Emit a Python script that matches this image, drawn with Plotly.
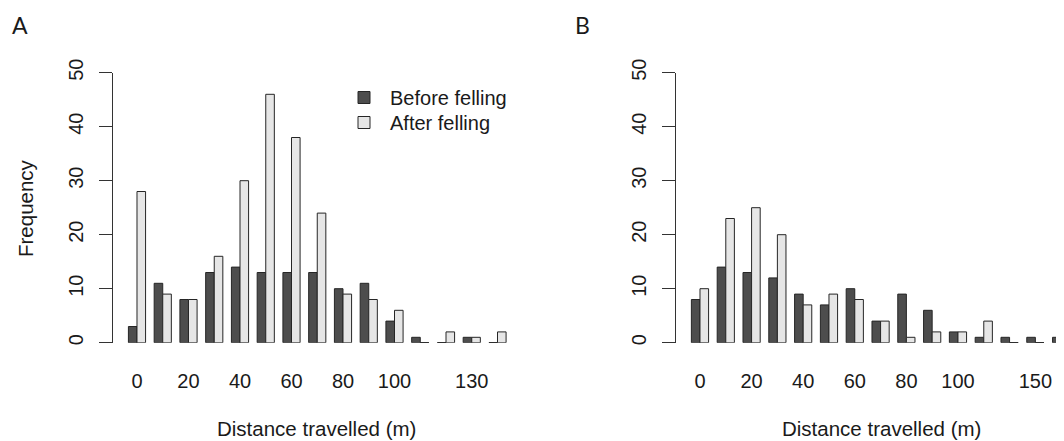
import plotly.graph_objects as go

# ---------------- data ----------------
categories_a = ["0", "10", "20", "30", "40", "50", "60", "70", "80", "90",
                "100", "110", "120", "130", "140"]
before_a = [3, 11, 8, 13, 14, 13, 13, 13, 10, 11, 4, 1, 0, 1, 0]
after_a = [28, 9, 8, 16, 30, 46, 38, 24, 9, 8, 6, 0, 2, 1, 2]
shown_labels_a = ["0", "20", "40", "60", "80", "100", "130"]

categories_b = ["0", "10", "20", "30", "40", "50", "60", "70", "80", "90",
                "100", "110", "140", "150", "160"]
before_b = [8, 14, 13, 12, 9, 7, 10, 4, 9, 6, 2, 1, 1, 1, 1]
after_b = [10, 23, 25, 20, 7, 9, 8, 4, 1, 2, 2, 4, 0, 0, 0]
shown_labels_b = ["0", "20", "40", "60", "80", "100", "150"]

y_ticks = [0, 10, 20, 30, 40, 50]
series_names = ["Before felling", "After felling"]

# ---------------- style ----------------
# the page body has an 8px margin, so the figure is drawn 8px in from the
# top-left corner of the window; positions below are given in window pixels
OFF = 8
W, H = 1064 - OFF, 441 - OFF
DARK = "#4d4d4d"
LIGHT = "#e6e6e6"
EDGE = "#262626"
TXT = "#1a1a1a"
FONT = "Liberation Sans, Arial, sans-serif"


def fx(p):
    return (p - OFF) / W


def fy(p):
    return 1 - (p - OFF) / H


fig = go.Figure()

panels = [
    (categories_a, before_a, after_a, shown_labels_a, "x", "y", True),
    (categories_b, before_b, after_b, shown_labels_b, "x2", "y2", False),
]

BW = 1 / 3  # bar width in category units (bargap = 1/3, 2 bars per group)
legends = ["legend", "legend2"]

for cats, bef, aft, shown, xa, ya, leg in panels:
    idx = list(range(len(cats)))
    for k, (name, vals, col) in enumerate([(series_names[0], bef, DARK),
                                           (series_names[1], aft, LIGHT)]):
        fig.add_trace(go.Bar(
            x=idx, y=vals, name=name, xaxis=xa, yaxis=ya,
            marker=dict(color=col, line=dict(color=EDGE, width=1)),
            showlegend=leg, legend=legends[k], cliponaxis=False,
            hoverinfo="y",
        ))
    # outline of zero-height bars (R draws them as a flat line)
    for k, vals in enumerate([bef, aft]):
        xs, ys = [], []
        for i, v in enumerate(vals):
            if v == 0:
                left = i - BW if k == 0 else i
                xs += [left, left + BW, None]
                ys += [0, 0, None]
        if xs:
            fig.add_trace(go.Scatter(
                x=xs, y=ys, mode="lines", xaxis=xa, yaxis=ya,
                line=dict(color=EDGE, width=1.2), showlegend=False,
                hoverinfo="skip", cliponaxis=False,
            ))

ydom = [fy(342.7), fy(72.7)]
yaxis_common = dict(
    range=[0, 50], domain=ydom, tickvals=y_ticks, ticks="outside", ticklen=13,
    tickwidth=1.3, tickcolor="#333", showline=True, linecolor="#333", linewidth=1.3,
    showgrid=False, zeroline=False, tickangle=-90, automargin=False,
    ticklabelstandoff=8,
    tickfont=dict(family=FONT, size=20, color=TXT), fixedrange=True,
)
xaxis_common = dict(
    showline=False, ticks="", showgrid=False, zeroline=False, automargin=False,
    ticklabelstandoff=24,
    tickfont=dict(family=FONT, size=20, color=TXT), fixedrange=True,
)

ann_font = dict(family=FONT, size=20.5, color=TXT)
lab_font = dict(family="Lato, Open Sans, sans-serif", size=23, color=TXT)
leg_common = dict(
    x=fx(338), xanchor="left", yanchor="top",
    font=dict(family=FONT, size=20, color=TXT), itemwidth=42,
    bgcolor="rgba(0,0,0,0)", borderwidth=0,
)

fig.update_layout(
    template="none",
    width=W, height=H, margin=dict(l=0, r=0, t=0, b=0, pad=0, autoexpand=False),
    paper_bgcolor="white", plot_bgcolor="white",
    barmode="group", bargap=1 / 3, bargroupgap=0,
    font=dict(family=FONT, color=TXT),
    xaxis=dict(xaxis_common, domain=[fx(113.3), fx(521.2)], range=[-0.92, 14.92],
               tickvals=[categories_a.index(t) for t in shown_labels_a],
               ticktext=shown_labels_a, anchor="y"),
    yaxis=dict(yaxis_common, anchor="x"),
    xaxis2=dict(xaxis_common, domain=[fx(676), 1.0], range=[-0.93, 14.11],
                tickvals=[categories_b.index(t) for t in shown_labels_b],
                ticktext=shown_labels_b, anchor="y2"),
    yaxis2=dict(yaxis_common, anchor="x2"),
    legend=dict(leg_common, y=fy(78)),
    legend2=dict(leg_common, y=fy(103)),
    annotations=[
        dict(text="A", x=fx(19.5), y=fy(25), font=lab_font),
        dict(text="B", x=fx(582.5), y=fy(25), font=lab_font),
        dict(text="Frequency", x=fx(26), y=fy(208), textangle=-90, font=ann_font),
        dict(text="Distance travelled (m)", x=fx(316.7), y=fy(428), font=ann_font),
        dict(text="Distance travelled (m)", x=fx(881.7), y=fy(428), font=ann_font),
    ],
)
fig.update_annotations(xref="paper", yref="paper", showarrow=False,
                       xanchor="center", yanchor="middle", borderpad=0)

fig.write_html("out.html")
